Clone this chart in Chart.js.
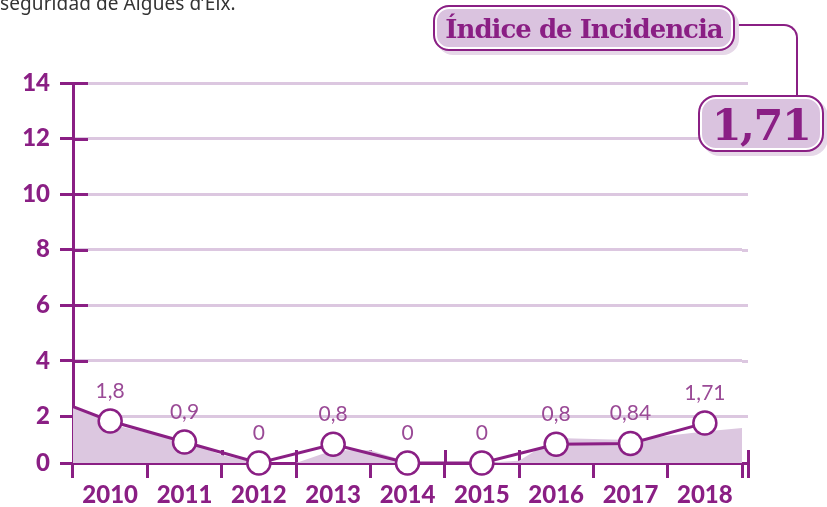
<!DOCTYPE html>
<html>
<head>
<meta charset="utf-8">
<script src="https://cdn.jsdelivr.net/npm/chart.js@4/dist/chart.umd.min.js"></script>
<style>
  html, body { margin: 0; padding: 0; background: #fff; }
  #wrap { position: relative; width: 827px; height: 507px; overflow: hidden; }
  #chart { position: absolute; left: 0; top: 0; }
  .note { position: absolute; left: 0; top: -10px; font: 19px "Noto Sans", sans-serif; color: #333; white-space: nowrap; letter-spacing: 0.1px; }
  .pill { position: absolute; box-sizing: border-box; border: 2px solid #8a1f84; background: #dac3df;
          box-shadow: inset 0 0 0 2px #fff, 4px 4px 0 #e6d8e8; color: #8a1f84;
          font-family: "DejaVu Serif", serif; font-weight: bold; display: flex; align-items: center; justify-content: center; white-space: nowrap; }
  #title { left: 433px; top: 5px; width: 302px; height: 46px; border-radius: 16px; font-size: 26px; letter-spacing: -1px; padding-top: 2px; }
  #value { left: 698px; top: 95px; width: 126px; height: 57px; border-radius: 18px; font-size: 43px; letter-spacing: -1.5px; padding-top: 3px; }
  #link { position: absolute; left: 733px; top: 24px; width: 65px; height: 72px; box-sizing: border-box;
          border-top: 2px solid #8a1f84; border-right: 2px solid #8a1f84; border-top-right-radius: 14px; }
</style>
</head>
<body>
<div id="wrap">
  <canvas id="chart" width="827" height="507"></canvas>
  <div class="note" id="note"></div>
  <div id="link"></div>
  <div class="pill" id="title"></div>
  <div class="pill" id="value"></div>
</div>
<script>
// ---- data ----
const years = ['2010', '2011', '2012', '2013', '2014', '2015', '2016', '2017', '2018'];
const incidence = [1.8, 0.9, 0, 0.8, 0, 0, 0.8, 0.84, 1.71];
const lineEntry = 2.35;                 // level where the line enters at the left edge
const bandX = [-0.5, 0, 1, 1.5, 2, 2.5, 3, 3.5, 4, 5, 5.5, 6, 7, 8, 8.5];
const bandY = [2.35, 1.66, 0.95, 0.34, 0, 0, 0.55, 0.55, 0.05, 0, 0.1, 1.07, 0.99, 1.35, 1.5];
const yTicks = [0, 2, 4, 6, 8, 10, 12, 14];
const noteText = 'seguridad de Aigües d\u2019Elx.';
const titleText = 'Índice de Incidencia';
const headline = '1,71';

// ---- style ----
const DARK = '#8a1f84';
const LIGHT = '#dcc7e0';
const LABEL = '#9a4a96';
const HEAVY = 'Lato, "Noto Sans", sans-serif';

document.getElementById('note').textContent = noteText;
document.getElementById('title').textContent = titleText;
document.getElementById('value').textContent = headline;

const fmt = v => String(v).replace('.', ',');

// Linear axis whose first step (0 to 2) is drawn a little shorter than the rest.
const KNEE = 2;
const KNEE_RATIO = 0.84;
class KneeScale extends Chart.LinearScale {
  _unit() {
    return (this.bottom - this.top) / (KNEE * KNEE_RATIO + (this.max - KNEE));
  }
  getPixelForValue(v) {
    if (v === null || v === undefined || isNaN(v)) return NaN;
    const u = this._unit();
    const d = v <= KNEE ? v * KNEE_RATIO * u : (KNEE * KNEE_RATIO + (v - KNEE)) * u;
    return this.bottom - d;
  }
  getValueForPixel(p) {
    const d = (this.bottom - p) / this._unit();
    return d <= KNEE * KNEE_RATIO ? d / KNEE_RATIO : KNEE + d - KNEE * KNEE_RATIO;
  }
}
KneeScale.id = 'knee';
KneeScale.defaults = Chart.LinearScale.defaults;
Chart.register(KneeScale);

// Tick marks that cross the axes, plus a short run of the axes past the plot edge.
const axisMarks = {
  id: 'axisMarks',
  beforeDatasetsDraw(chart) {
    const { ctx, chartArea: a, scales: { x, y } } = chart;
    const ext = 6;
    ctx.save();
    ctx.lineWidth = 3;
    ctx.strokeStyle = LIGHT;
    y.ticks.forEach(t => {
      if (t.value === 0) return;
      const py = Math.round(y.getPixelForValue(t.value)) + 0.5;
      ctx.beginPath(); ctx.moveTo(a.right, py); ctx.lineTo(a.right + ext, py); ctx.stroke();
    });
    ctx.strokeStyle = DARK;
    y.ticks.forEach(t => {
      const py = Math.round(y.getPixelForValue(t.value)) + 0.5;
      ctx.beginPath(); ctx.moveTo(a.left, py); ctx.lineTo(a.left + 15, py); ctx.stroke();
    });
    const n = years.length;
    for (let i = 0; i <= n; i++) {
      let px = i === n ? a.right + ext : x.getPixelForValue(i) - (x.getPixelForValue(1) - x.getPixelForValue(0)) / 2;
      px = Math.round(px) + 0.5;
      ctx.beginPath(); ctx.moveTo(px, a.bottom - 13); ctx.lineTo(px, a.bottom + (i === n ? 15 : 0)); ctx.stroke();
    }
    const by = Math.round(a.bottom) + 0.5;
    ctx.beginPath(); ctx.moveTo(a.right - 2, by); ctx.lineTo(a.right + ext, by); ctx.stroke();
    ctx.restore();
  }
};

// Value labels above each marker.
const valueLabels = {
  id: 'valueLabels',
  afterDatasetsDraw(chart) {
    const meta = chart.getDatasetMeta(0);
    const { ctx } = chart;
    ctx.save();
    ctx.fillStyle = LABEL;
    ctx.font = '400 21px Lato, "Open Sans", sans-serif';
    ctx.textAlign = 'center';
    ctx.textBaseline = 'middle';
    incidence.forEach((v, i) => {
      const pt = meta.data[i + 1];
      ctx.fillText(fmt(v), pt.x, pt.y - 30);
    });
    ctx.restore();
  }
};

const linePoints = [{ x: -0.5, y: lineEntry }].concat(incidence.map((v, i) => ({ x: i, y: v })));
const bandPoints = bandX.map((x, i) => ({ x, y: bandY[i] }));

new Chart(document.getElementById('chart'), {
  type: 'line',
  data: {
    datasets: [
      {
        label: 'Índice de Incidencia',
        data: linePoints,
        xAxisID: 'xa',
        borderColor: DARK,
        borderWidth: 3,
        pointRadius: linePoints.map((p, i) => (i === 0 ? 0 : 11.5)),
        pointBackgroundColor: '#fff',
        pointBorderColor: DARK,
        pointBorderWidth: 2.5,
        clip: false,
        order: 0
      },
      {
        label: 'band',
        data: bandPoints,
        xAxisID: 'xa',
        fill: 'origin',
        backgroundColor: LIGHT,
        borderWidth: 0,
        pointRadius: 0,
        clip: false,
        order: 1
      }
    ]
  },
  options: {
    responsive: false,
    animation: false,
    events: [],
    layout: { padding: { top: 83, right: 85, left: 0, bottom: 0 } },
    plugins: { legend: { display: false }, tooltip: { enabled: false } },
    scales: {
      x: {
        type: 'category',
        labels: years,
        offset: true,
        position: 'bottom',
        border: { display: true, color: DARK, width: 3 },
        grid: { offset: true, drawOnChartArea: false, drawTicks: true, tickLength: 15, tickWidth: 3, tickColor: DARK },
        ticks: { color: DARK, font: { family: HEAVY, size: 24, weight: '900' }, padding: 3, maxRotation: 0, autoSkip: false },
        afterFit(s) { s.height = 44; }
      },
      xa: { type: 'linear', min: -0.5, max: 8.5, display: false, position: 'bottom' },
      y: {
        type: 'knee',
        min: 0,
        max: 14,
        position: 'left',
        afterBuildTicks(s) { s.ticks = yTicks.map(v => ({ value: v })); },
        border: { display: true, color: DARK, width: 3 },
        grid: { color: LIGHT, lineWidth: 3, tickLength: 13, tickColor: DARK, tickWidth: 3 },
        ticks: { color: DARK, font: { family: HEAVY, size: 24, weight: '900' }, padding: 10 },
        afterFit(s) { s.width = 73; }
      }
    }
  },
  plugins: [axisMarks, valueLabels]
});
</script>
</body>
</html>
